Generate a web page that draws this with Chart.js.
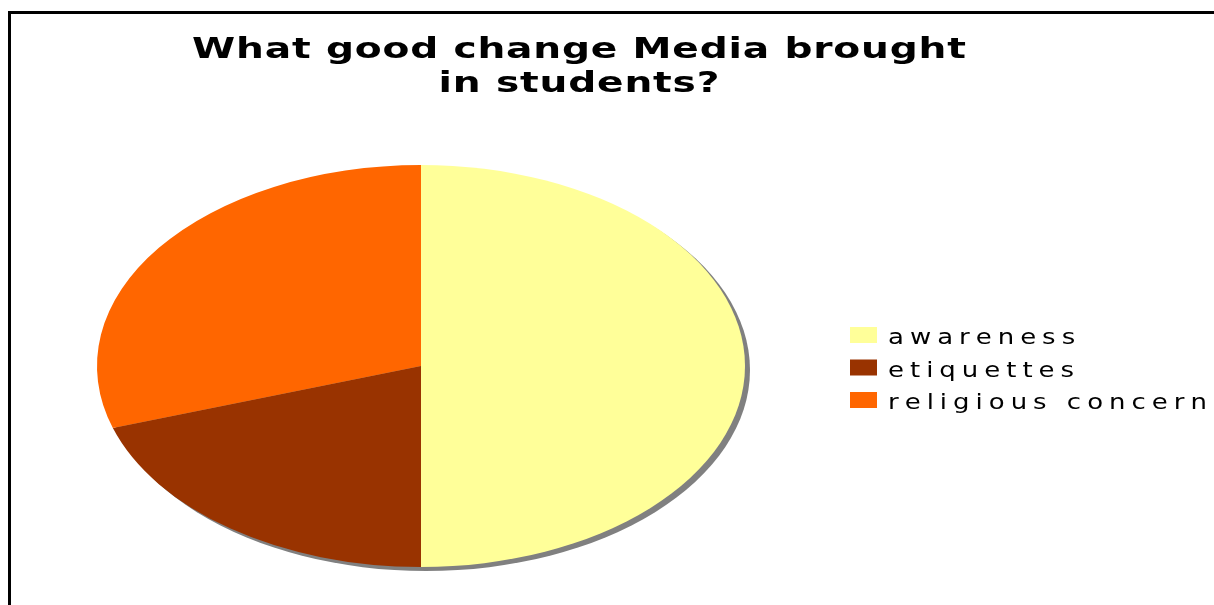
<!DOCTYPE html>
<html>
<head>
<meta charset="utf-8">
<title>Media and students</title>
<script src="https://cdn.jsdelivr.net/npm/chart.js@4.4.0/dist/chart.umd.min.js"></script>
<style>
  html, body { margin: 0; padding: 0; background: #fff; overflow: hidden; }
  #wrap { width: 1214px; height: 605px; position: relative; }
</style>
</head>
<body>
<div id="wrap"><canvas id="pie-chart"></canvas></div>
<script>
// Chart data
var titleLines = ["What good change Media brought", "in students?"];
var labels = ["awareness", "etiquettes", "religious concerns"];
var values = [50, 20, 30];
var colors = ["#FFFF99", "#993300", "#FF6600"];

// draws text widened by sx, with extra gap between letters
function wideText(ctx, text, x, y, sx, gap) {
    ctx.save();
    ctx.translate(x, y);
    ctx.scale(sx, 1);
    var pos = 0;
    for (var i = 0; i < text.length; i++) {
        ctx.fillText(text[i], pos, 0);
        pos += ctx.measureText(text[i]).width + gap / sx;
    }
    ctx.restore();
    return pos * sx;
}
function wideWidth(ctx, text, sx, gap) {
    var w = 0;
    for (var i = 0; i < text.length; i++) w += ctx.measureText(text[i]).width * sx + gap;
    return w - gap;
}

// frame + the pie turned into a flat ellipse with a grey drop shadow
var ellipsePlugin = {
    id: 'ellipse',
    beforeDraw: function(chart) {
        var ctx = chart.ctx;
        ctx.save();
        ctx.fillStyle = '#fff';
        ctx.fillRect(0, 0, chart.width, chart.height);
        ctx.strokeStyle = '#000';
        ctx.lineWidth = 3;
        ctx.strokeRect(9.5, 12.5, chart.width + 20, chart.height + 20);
        ctx.restore();
    },
    beforeDatasetsDraw: function(chart, args, opts) {
        var arc = chart.getDatasetMeta(0).data[0];
        var ctx = chart.ctx;
        ctx.save();
        ctx.translate(arc.x, arc.y);
        ctx.scale(opts.stretch, 1);
        ctx.translate(-arc.x, -arc.y);
        ctx.fillStyle = opts.shadowColor;
        ctx.beginPath();
        ctx.arc(arc.x + opts.shadowX / opts.stretch, arc.y + opts.shadowY, arc.outerRadius, 0, Math.PI * 2);
        ctx.fill();
    },
    afterDatasetsDraw: function(chart) {
        chart.ctx.restore();
    }
};

// title and legend, in the wide lettering of the original sheet
var textPlugin = {
    id: 'wideText',
    afterDraw: function(chart) {
        var ctx = chart.ctx;
        ctx.save();
        ctx.fillStyle = '#000';
        ctx.textBaseline = 'alphabetic';
        ctx.textAlign = 'left';

        ctx.font = 'bold 29px "DejaVu Sans"';
        var tsx = 1.35, tgap = 0.8;
        var baselines = [58, 92];
        titleLines.forEach(function(line, i) {
            var w = wideWidth(ctx, line, tsx, tgap);
            wideText(ctx, line, 579 - w / 2, baselines[i], tsx, tgap);
        });

        ctx.font = '22px "DejaVu Sans"';
        var ds = chart.data.datasets[0];
        chart.data.labels.forEach(function(lbl, i) {
            var top = 327 + i * 32.5;
            ctx.fillStyle = ds.backgroundColor[i];
            ctx.fillRect(850, top, 27, 16);
            ctx.fillStyle = '#000';
            wideText(ctx, lbl, 888, top + 17, 1.18, 6.0);
        });
        ctx.restore();
    }
};

var ctx = document.getElementById('pie-chart');

var chartOptions = {
    responsive: true,
    maintainAspectRatio: false,
    animation: false,
    layout: {
        padding: { left: 220, right: 592, top: 165, bottom: 38 }
    },
    plugins: {
        legend: { display: false },
        title: { display: false },
        tooltip: { enabled: false },
        ellipse: { stretch: 324 / 201, shadowX: 5, shadowY: 4, shadowColor: '#808080' }
    }
};

var chartData = {
    labels: labels,
    datasets: [{
        data: values,
        backgroundColor: colors,
        borderWidth: 0,
        clip: false
    }]
};

var pieChart = new Chart(ctx, {
    type: 'pie',
    data: chartData,
    options: chartOptions,
    plugins: [ellipsePlugin, textPlugin]
});
</script>
</body>
</html>
